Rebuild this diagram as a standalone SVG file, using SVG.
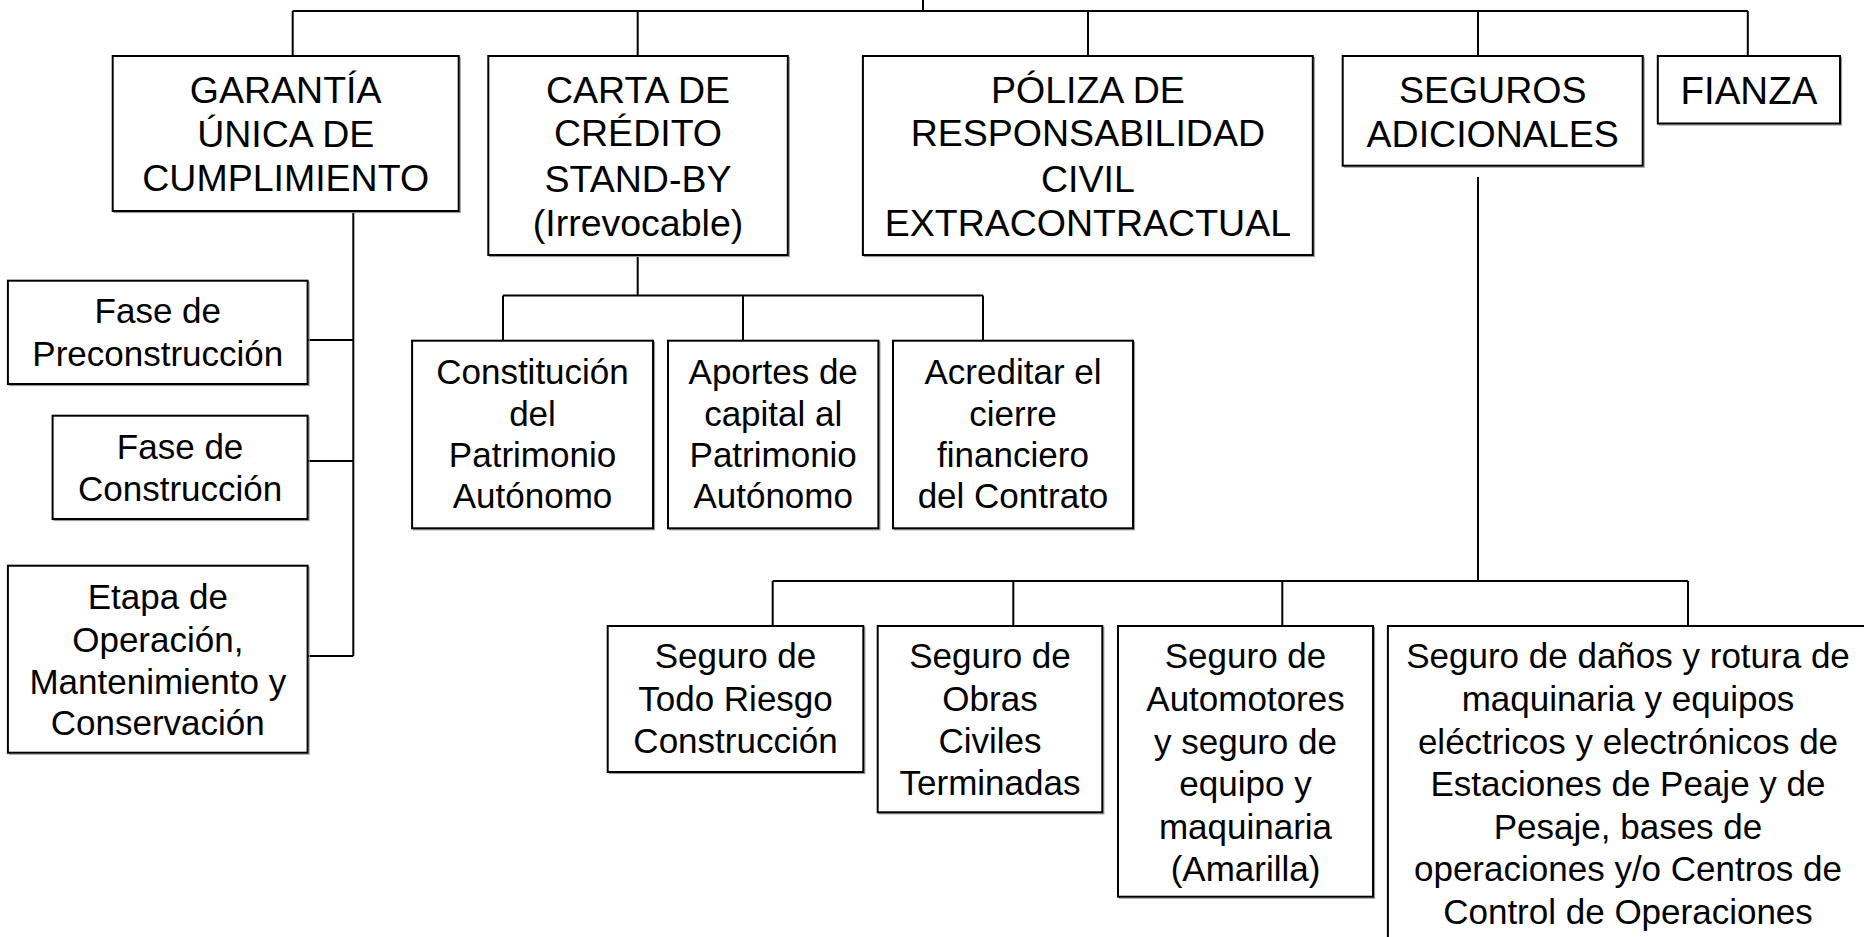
<svg xmlns="http://www.w3.org/2000/svg" width="1864" height="937" viewBox="0 0 1864 937">
<defs>
<style>
.box{fill:#fff;stroke:#000;stroke-width:2}
.sh{fill:none;stroke:#9a9a9a;stroke-width:1.2}
.ln{fill:none;stroke:#000;stroke-width:2}
text{font-family:"Liberation Sans",Arial,sans-serif;fill:#000;text-anchor:middle}
.b{font-size:37.5px}
.s{font-size:35px}
</style>
</defs>
<rect width="1864" height="937" fill="#fff"/>
<g id="connectors">
<path class="ln" d="M923,0V11 M292.7,11H1747.8 M292.7,11V56 M637.7,11V56 M1088,11V56 M1478,11V56 M1747.8,11V56 M353.3,207V656 M307.6,340H353.3 M307.6,461H353.3 M307.6,656H353.3 M637.7,251.5V295.5 M503,295.5H983 M503,295.5V340.7 M743,295.5V340.7 M983,295.5V340.7 M1478,177V581 M772.7,581H1688 M772.7,581V626 M1013.3,581V626 M1282.3,581V626 M1688,581V626"/>
</g>
<g id="garantia">
<rect class="sh" x="114.2" y="57.5" width="346" height="155"/>
<rect class="box" x="112.7" y="56" width="346" height="155"/>
<text class="b" x="285.7" y="102.5">GARANTÍA</text>
<text class="b" x="285.7" y="147">ÚNICA DE</text>
<text class="b" x="285.7" y="191">CUMPLIMIENTO</text>
</g>
<g id="carta">
<rect class="sh" x="489.8" y="57.5" width="299.5" height="199"/>
<rect class="box" x="488.3" y="56" width="299.5" height="199"/>
<text class="b" x="638" y="102.5">CARTA DE</text>
<text class="b" x="638" y="146">CRÉDITO</text>
<text class="b" x="638" y="191.7">STAND-BY</text>
<text class="b" x="638" y="236">(Irrevocable)</text>
</g>
<g id="poliza">
<rect class="sh" x="864.4" y="57.5" width="449.9" height="199"/>
<rect class="box" x="862.9" y="56" width="449.9" height="199"/>
<text class="b" x="1087.9" y="102.5">PÓLIZA DE</text>
<text class="b" x="1087.9" y="146">RESPONSABILIDAD</text>
<text class="b" x="1087.9" y="191.7">CIVIL</text>
<text class="b" x="1087.9" y="236">EXTRACONTRACTUAL</text>
</g>
<g id="seguros">
<rect class="sh" x="1344.2" y="57.5" width="300" height="109.7"/>
<rect class="box" x="1342.7" y="56" width="300" height="109.7"/>
<text class="b" x="1492.7" y="102.5">SEGUROS</text>
<text class="b" x="1492.7" y="146.7">ADICIONALES</text>
</g>
<g id="fianza">
<rect class="sh" x="1659.3" y="57.5" width="182.2" height="67.5"/>
<rect class="box" x="1657.8" y="56" width="182.2" height="67.5"/>
<text class="b" x="1748.9" y="104.3" style="font-size:38.5px">FIANZA</text>
</g>
<g id="fase-pre">
<rect class="sh" x="9.4" y="282.2" width="299.7" height="103.3"/>
<rect class="box" x="7.9" y="280.7" width="299.7" height="103.3"/>
<text class="s" x="157.8" y="323.3">Fase de</text>
<text class="s" x="157.8" y="366">Preconstrucción</text>
</g>
<g id="fase-con">
<rect class="sh" x="54.1" y="417.2" width="255" height="103.3"/>
<rect class="box" x="52.6" y="415.7" width="255" height="103.3"/>
<text class="s" x="180.1" y="459.3">Fase de</text>
<text class="s" x="180.1" y="501.3">Construcción</text>
</g>
<g id="etapa">
<rect class="sh" x="9.4" y="567.2" width="299.7" height="187"/>
<rect class="box" x="7.9" y="565.7" width="299.7" height="187"/>
<text class="s" x="157.8" y="609.3">Etapa de</text>
<text class="s" x="157.8" y="651.5">Operación,</text>
<text class="s" x="157.8" y="693.7">Mantenimiento y</text>
<text class="s" x="157.8" y="735">Conservación</text>
</g>
<g id="constitucion">
<rect class="sh" x="413.6" y="342.2" width="240.9" height="187.6"/>
<rect class="box" x="412.1" y="340.7" width="240.9" height="187.6"/>
<text class="s" x="532.5" y="383.5">Constitución</text>
<text class="s" x="532.5" y="425.5">del</text>
<text class="s" x="532.5" y="466.8">Patrimonio</text>
<text class="s" x="532.5" y="508.3">Autónomo</text>
</g>
<g id="aportes">
<rect class="sh" x="669.5" y="342.2" width="210.4" height="187.6"/>
<rect class="box" x="668" y="340.7" width="210.4" height="187.6"/>
<text class="s" x="773.2" y="383.5">Aportes de</text>
<text class="s" x="773.2" y="425.5">capital al</text>
<text class="s" x="773.2" y="466.8">Patrimonio</text>
<text class="s" x="773.2" y="508.3">Autónomo</text>
</g>
<g id="acreditar">
<rect class="sh" x="894.5" y="342.2" width="240" height="187.6"/>
<rect class="box" x="893" y="340.7" width="240" height="187.6"/>
<text class="s" x="1013" y="383.5">Acreditar el</text>
<text class="s" x="1013" y="425.5">cierre</text>
<text class="s" x="1013" y="466.8">financiero</text>
<text class="s" x="1013" y="508.3">del Contrato</text>
</g>
<g id="todo-riesgo">
<rect class="sh" x="609.2" y="627.5" width="255.6" height="146"/>
<rect class="box" x="607.7" y="626" width="255.6" height="146"/>
<text class="s" x="735.5" y="668.3">Seguro de</text>
<text class="s" x="735.5" y="711">Todo Riesgo</text>
<text class="s" x="735.5" y="752.5">Construcción</text>
</g>
<g id="obras">
<rect class="sh" x="879.2" y="627.5" width="224.6" height="186.3"/>
<rect class="box" x="877.7" y="626" width="224.6" height="186.3"/>
<text class="s" x="990" y="668.3">Seguro de</text>
<text class="s" x="990" y="711">Obras</text>
<text class="s" x="990" y="753">Civiles</text>
<text class="s" x="990" y="795">Terminadas</text>
</g>
<g id="automotores">
<rect class="sh" x="1119.5" y="627.5" width="255" height="270.7"/>
<rect class="box" x="1118" y="626" width="255" height="270.7"/>
<text class="s" x="1245.5" y="668.3">Seguro de</text>
<text class="s" x="1245.5" y="711">Automotores</text>
<text class="s" x="1245.5" y="753.5">y seguro de</text>
<text class="s" x="1245.5" y="796">equipo y</text>
<text class="s" x="1245.5" y="838.5">maquinaria</text>
<text class="s" x="1245.5" y="881">(Amarilla)</text>
</g>
<g id="danos">
<rect class="box" x="1387.9" y="626" width="480" height="330"/>
<text class="s" x="1628" y="668.3">Seguro de daños y rotura de</text>
<text class="s" x="1628" y="710.9">maquinaria y equipos</text>
<text class="s" x="1628" y="753.5">eléctricos y electrónicos de</text>
<text class="s" x="1628" y="796.1">Estaciones de Peaje y de</text>
<text class="s" x="1628" y="838.7">Pesaje, bases de</text>
<text class="s" x="1628" y="881.3">operaciones y/o Centros de</text>
<text class="s" x="1628" y="923.9">Control de Operaciones</text>
</g>
</svg>
